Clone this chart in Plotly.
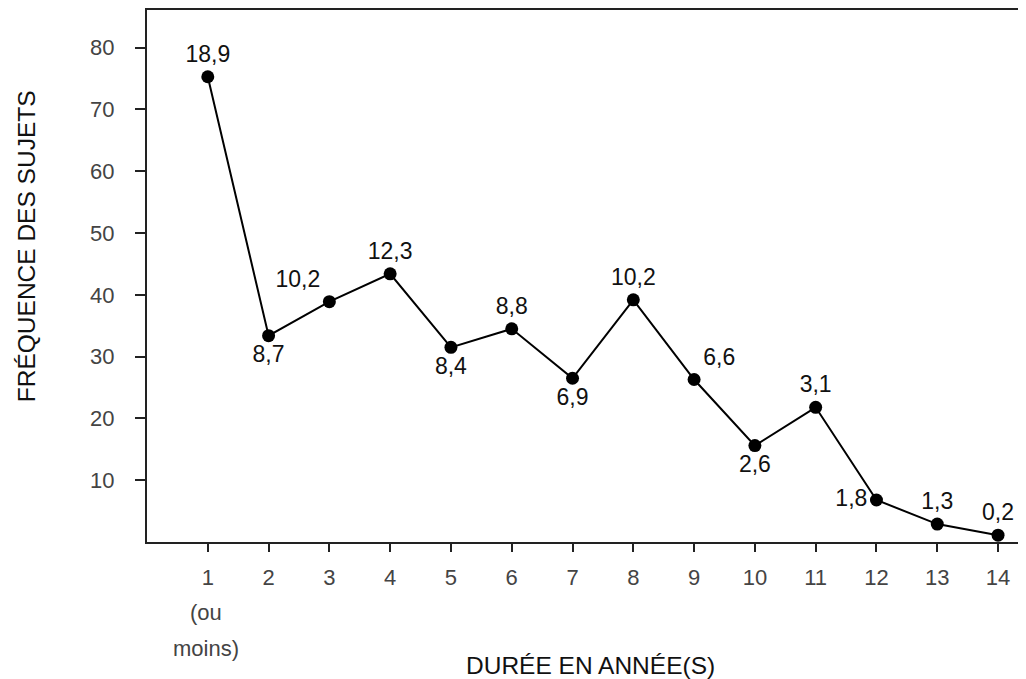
import plotly.graph_objects as go

# Data
annees = [1, 2, 3, 4, 5, 6, 7, 8, 9, 10, 11, 12, 13, 14]
frequence = [75.3, 33.4, 38.9, 43.4, 31.5, 34.5, 26.5, 39.2, 26.3, 15.6, 21.8, 6.8, 2.9, 1.1]
pourcentages = ["18,9", "8,7", "10,2", "12,3", "8,4", "8,8", "6,9", "10,2", "6,6", "2,6", "3,1", "1,8", "1,3", "0,2"]
tick_vals_x = annees
tick_text_x = ["1", "2", "3", "4", "5", "6", "7", "8", "9", "10", "11", "12", "13", "14"]
tick1_extra = ["(ou", "moins)"]
tick_vals_y = [10, 20, 30, 40, 50, 60, 70, 80]
titre_x = "DURÉE EN ANNÉE(S)"
titre_y = "FRÉQUENCE DES SUJETS"

# Styles
label_positions = ["top center", "bottom center", "top left", "top center", "bottom center",
                   "top center", "bottom center", "top center", "top right", "bottom center",
                   "top center", "middle left", "top center", "top center"]
FONT = "Liberation Sans, Arial, Helvetica, sans-serif"

fig = go.Figure()
fig.add_trace(go.Scatter(
    x=annees, y=frequence,
    mode="lines+markers+text",
    line=dict(color="black", width=2),
    marker=dict(color="black", size=13),
    text=pourcentages,
    textposition=label_positions,
    textfont=dict(family=FONT, size=23, color="#111"),
    cliponaxis=False,
    showlegend=False,
))

annotations = []
for i, t in enumerate(tick1_extra):
    annotations.append(dict(
        x=annees[0], xref="x", y=0, yref="paper",
        text=t, showarrow=False, yanchor="middle", xanchor="center",
        yshift=-(70 + 36 * i), xshift=-2,
        font=dict(family=FONT, size=22, color="#444"),
    ))
annotations.append(dict(
    x=0.5, xref="paper", y=0, yref="paper", text=titre_x, showarrow=False,
    xanchor="center", yanchor="middle", yshift=-123, xshift=4,
    font=dict(family=FONT, size=24.5, color="#111"),
))
annotations.append(dict(
    x=0, xref="paper", y=0.556, yref="paper", text=titre_y, showarrow=False,
    xanchor="center", yanchor="middle", xshift=-121, textangle=-90,
    font=dict(family=FONT, size=24.5, color="#111"),
))

fig.update_layout(
    width=1018, height=671,
    margin=dict(l=139, r=0, t=0, b=137),
    paper_bgcolor="white", plot_bgcolor="white",
    font=dict(family=FONT, color="#222"),
    annotations=annotations,
    xaxis=dict(
        range=[0, 14.46],
        tickvals=tick_vals_x, ticktext=tick_text_x,
        ticks="outside", ticklen=8, tickwidth=2, tickcolor="#222",
        showline=True, linecolor="#222", linewidth=2, mirror=True,
        showgrid=False, zeroline=False,
        tickfont=dict(family=FONT, size=22, color="#444"),
        ticklabelstandoff=7,
    ),
    yaxis=dict(
        range=[0, 86.1],
        tickvals=tick_vals_y,
        ticks="outside", ticklen=10, tickwidth=2, tickcolor="#222",
        showline=True, linecolor="#222", linewidth=2, mirror=False,
        showgrid=False, zeroline=False,
        tickfont=dict(family=FONT, size=22, color="#444"),
        ticklabelstandoff=16,
    ),
)

fig.write_html("out.html")
